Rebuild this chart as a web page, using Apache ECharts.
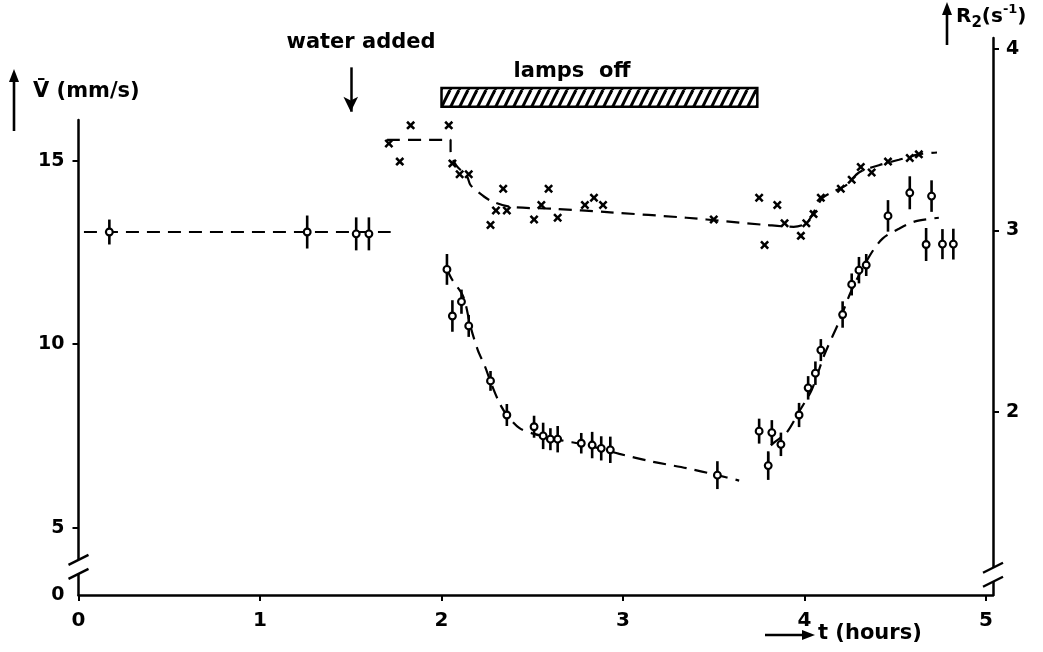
<!DOCTYPE html>
<html>
<head>
<meta charset="utf-8">
<script src="https://cdn.jsdelivr.net/npm/echarts@6/dist/echarts.min.js"></script>
<style>
  html, body { margin: 0; padding: 0; background: #fff; }
  #chart { width: 1043px; height: 652px; }
</style>
</head>
<body>
<div id="chart"></div>
<script>
// ---- axis ticks ----
const timeTicks = [0, 1, 2, 3, 4, 5];
const velocityTicks = [5, 10, 15];
const rateTicks = [2, 3, 4];

// ---- mean velocity V (mm/s): time (h), value, error half-width ----
const velTimes  = [0.17, 1.26, 1.53, 1.60, 2.03, 2.06, 2.11, 2.15, 2.27, 2.36, 2.51, 2.56, 2.60, 2.64, 2.77, 2.83, 2.88, 2.93, 3.52,
                   3.75, 3.80, 3.82, 3.87, 3.97, 4.02, 4.06, 4.09, 4.21, 4.26, 4.30, 4.34, 4.46, 4.58, 4.67, 4.70, 4.76, 4.82];
const velValues = [13.06, 13.06, 13.01, 13.01, 12.04, 10.77, 11.16, 10.50, 9.00, 8.07, 7.75, 7.50, 7.41, 7.41, 7.30, 7.25, 7.16, 7.12, 6.43,
                   7.63, 6.69, 7.59, 7.27, 8.07, 8.81, 9.21, 9.84, 10.81, 11.63, 12.02, 12.16, 13.50, 14.13, 12.72, 14.04, 12.73, 12.73];
const velErrors = [0.34, 0.45, 0.45, 0.45, 0.42, 0.43, 0.33, 0.30, 0.27, 0.30, 0.30, 0.36, 0.30, 0.36, 0.28, 0.36, 0.33, 0.36, 0.38,
                   0.34, 0.39, 0.34, 0.32, 0.33, 0.32, 0.32, 0.30, 0.36, 0.30, 0.36, 0.30, 0.43, 0.45, 0.45, 0.43, 0.41, 0.42];

// ---- dashed trend curves through the velocity data ----
const velTrendBefore = [[0.03, 13.06], [1.72, 13.06]];
const velTrendDecay = [[2.03, 12.04], [2.06, 11.75], [2.12, 11.30], [2.16, 10.48], [2.20, 9.84], [2.24, 9.39], [2.27, 8.98],
                       [2.32, 8.39], [2.36, 8.07], [2.43, 7.71], [2.50, 7.57], [2.65, 7.39], [2.80, 7.25], [2.98, 7.01],
                       [3.16, 6.80], [3.35, 6.62], [3.52, 6.43], [3.64, 6.28]];
const velTrendRecovery = [[3.80, 6.69], [3.80, 7.12], [3.83, 7.31], [3.90, 7.58], [3.97, 8.16], [4.04, 8.76], [4.11, 9.72],
                          [4.19, 10.61], [4.26, 11.48], [4.36, 12.42], [4.43, 12.88], [4.52, 13.15], [4.61, 13.35], [4.74, 13.45]];

// ---- relaxation rate R2 (1/s) ----
const rateTimes  = [1.71, 1.77, 1.83, 2.04, 2.06, 2.10, 2.15, 2.27, 2.30, 2.34, 2.36, 2.51, 2.55, 2.59, 2.64, 2.79, 2.84, 2.89,
                    3.50, 3.75, 3.78, 3.85, 3.89, 3.98, 4.01, 4.05, 4.09, 4.20, 4.26, 4.31, 4.37, 4.46, 4.58, 4.63];
const rateValues = [3.48, 3.38, 3.58, 3.58, 3.37, 3.31, 3.31, 3.03, 3.11, 3.23, 3.11, 3.06, 3.14, 3.23, 3.07, 3.14, 3.18, 3.14,
                    3.06, 3.18, 2.92, 3.14, 3.04, 2.97, 3.04, 3.09, 3.18, 3.23, 3.28, 3.35, 3.32, 3.38, 3.40, 3.42];
const rateTrend = [[1.70, 3.50], [2.05, 3.50], [2.05, 3.44], [2.08, 3.36], [2.14, 3.30], [2.16, 3.25], [2.23, 3.19],
                   [2.28, 3.16], [2.38, 3.13], [2.61, 3.12], [2.93, 3.10], [3.35, 3.07], [3.57, 3.05], [3.79, 3.03],
                   [3.94, 3.02], [4.01, 3.04], [4.05, 3.10], [4.10, 3.18], [4.15, 3.21], [4.23, 3.25], [4.30, 3.32],
                   [4.41, 3.36], [4.52, 3.39], [4.63, 3.42], [4.73, 3.43]];

// ---- events ----
const lampsOffPeriod = [2.0, 3.74];
const waterAddedTime = 1.5;

// ---- layout of annotations (in R2 axis units) ----
const lampBarBand = [3.786, 3.682];
const waterArrowSpan = [3.90, 3.655];

const FONT = "'DejaVu Sans', sans-serif";
const X_MAX = 5.0385;
const V_MIN = 3.161, V_MAX = 16.115;
const R_MIN = 0.988, R_MAX = 4.062;

// hatch pattern for the lamps-off bar
const hatch = document.createElement('canvas');
hatch.width = 9; hatch.height = 18;
(function () {
  const g = hatch.getContext('2d');
  g.fillStyle = '#fff';
  g.fillRect(0, 0, 9, 18);
  g.strokeStyle = '#000';
  g.lineWidth = 3;
  for (const dx of [-9, 0, 9]) {
    g.beginPath();
    g.moveTo(dx, 18);
    g.lineTo(dx + 9, 0);
    g.stroke();
  }
})();

// X-shaped marker
const crossSymbol = 'path://M0,2 L2,0 L5,3 L8,0 L10,2 L7,5 L10,8 L8,10 L5,7 L2,10 L0,8 L3,5 Z';

const dashStyle = { color: '#000', width: 2.2, type: [13, 8] };

const chart = echarts.init(document.getElementById('chart'), null, { renderer: 'canvas' });

const axisTextStyle = { color: '#000', fontFamily: FONT, fontWeight: 'bold', fontSize: 19 };
const axisLineStyle = { show: true, onZero: false, lineStyle: { color: '#000', width: 2.5 } };

const option = {
  animation: false,
  backgroundColor: '#fff',
  grid: [
    { left: 78.5, right: 50, top: 120, bottom: 57 },   // velocity panel
    { left: 78.5, right: 50, top: 38, bottom: 57 }     // R2 panel
  ],
  xAxis: [
    {
      type: 'value', gridIndex: 0, min: 0, max: X_MAX,
      axisLine: axisLineStyle,
      axisTick: { show: true, customValues: timeTicks, length: 6, lineStyle: { color: '#000', width: 2 } },
      axisLabel: Object.assign({}, axisTextStyle, { customValues: timeTicks, margin: 16, fontSize: 20 }),
      splitLine: { show: false }
    },
    {
      type: 'value', gridIndex: 1, min: 0, max: X_MAX, show: false,
      splitLine: { show: false }
    }
  ],
  yAxis: [
    {
      type: 'value', gridIndex: 0, min: V_MIN, max: V_MAX, position: 'left',
      axisLine: axisLineStyle,
      axisTick: { show: true, customValues: velocityTicks, length: 6, lineStyle: { color: '#000', width: 2 } },
      axisLabel: Object.assign({
        customValues: [V_MIN].concat(velocityTicks), margin: 14,
        formatter: v => (v < velocityTicks[0] - 1 ? '0' : String(v))
      }, axisTextStyle),
      splitLine: { show: false }
    },
    {
      type: 'value', gridIndex: 1, min: R_MIN, max: R_MAX, position: 'right',
      axisLine: axisLineStyle,
      axisTick: { show: true, customValues: rateTicks, length: 6, lineStyle: { color: '#000', width: 2 } },
      axisLabel: Object.assign({ customValues: rateTicks, margin: 13 }, axisTextStyle),
      splitLine: { show: false }
    }
  ],
  series: [
    // velocity trend curves
    { type: 'line', xAxisIndex: 0, yAxisIndex: 0, data: velTrendBefore, showSymbol: false, lineStyle: dashStyle, z: 2 },
    { type: 'line', xAxisIndex: 0, yAxisIndex: 0, data: velTrendDecay, showSymbol: false, smooth: 0.3, lineStyle: dashStyle, z: 2 },
    { type: 'line', xAxisIndex: 0, yAxisIndex: 0, data: velTrendRecovery, showSymbol: false, smooth: 0.3, lineStyle: dashStyle, z: 2 },
    // velocity points with error bars
    {
      type: 'custom', xAxisIndex: 0, yAxisIndex: 0, z: 4, clip: false,
      data: velTimes.map((t, i) => [t, velValues[i], velErrors[i]]),
      encode: { x: 0, y: 1 },
      renderItem(params, api) {
        const t = api.value(0), v = api.value(1), e = api.value(2);
        const hi = api.coord([t, v + e]);
        const lo = api.coord([t, v - e]);
        const c = api.coord([t, v]);
        return {
          type: 'group',
          children: [
            { type: 'line', shape: { x1: hi[0], y1: hi[1], x2: lo[0], y2: lo[1] }, style: { stroke: '#000', lineWidth: 2.6 } },
            { type: 'circle', shape: { cx: c[0], cy: c[1], r: 3.4 }, style: { fill: '#fff', stroke: '#000', lineWidth: 2.1 } }
          ]
        };
      }
    },
    // R2 trend curve
    { type: 'line', xAxisIndex: 1, yAxisIndex: 1, data: rateTrend, showSymbol: false, smooth: 0.3, lineStyle: dashStyle, z: 2 },
    // R2 points, plus the event annotations on the same scale
    {
      type: 'scatter', xAxisIndex: 1, yAxisIndex: 1, z: 4,
      data: rateTimes.map((t, i) => [t, rateValues[i]]),
      symbol: crossSymbol, symbolSize: 9,
      itemStyle: { color: '#000', opacity: 1 },
      markArea: {
        silent: true,
        itemStyle: { color: { image: hatch, repeat: 'repeat' }, borderColor: '#000', borderWidth: 2.5, opacity: 1 },
        label: { show: false },
        data: [[{ coord: [lampsOffPeriod[0], lampBarBand[0]] }, { coord: [lampsOffPeriod[1], lampBarBand[1]] }]]
      },
      markLine: {
        silent: true,
        symbol: ['none', 'arrow'], symbolSize: [11, 15],
        label: { show: false },
        lineStyle: { color: '#000', width: 2.5, type: 'solid' },
        data: [[{ coord: [waterAddedTime, waterArrowSpan[0]] }, { coord: [waterAddedTime, waterArrowSpan[1]] }]]
      }
    }
  ]
};

chart.setOption(option);

// decorations: axis titles, event labels and the axis-break marks
function textEl(text, x, y, size, align) {
  return {
    type: 'text', x: x, y: y, z: 10,
    style: { text: text, fill: '#000', font: 'bold ' + size + 'px ' + FONT, align: align || 'left', verticalAlign: 'middle' }
  };
}
function arrowUp(x, yTip, yEnd) {
  return [
    { type: 'line', z: 10, shape: { x1: x, y1: yTip + 10, x2: x, y2: yEnd }, style: { stroke: '#000', lineWidth: 2.6 } },
    { type: 'polygon', z: 10, shape: { points: [[x, yTip], [x - 5, yTip + 13], [x + 5, yTip + 13]] }, style: { fill: '#000' } }
  ];
}
function breakMark(p) {
  return [
    { type: 'rect', z: 10, shape: { x: p[0] - 3, y: p[1] - 7, width: 6, height: 14 }, style: { fill: '#fff' } },
    { type: 'line', z: 11, shape: { x1: p[0] - 10, y1: p[1] - 2, x2: p[0] + 10, y2: p[1] - 12 }, style: { stroke: '#000', lineWidth: 2.4 } },
    { type: 'line', z: 11, shape: { x1: p[0] - 10, y1: p[1] + 12, x2: p[0] + 10, y2: p[1] + 2 }, style: { stroke: '#000', lineWidth: 2.4 } }
  ];
}

const leftBreak = chart.convertToPixel({ gridIndex: 0 }, [0, 3.93]);
const rightBreak = chart.convertToPixel({ gridIndex: 1 }, [X_MAX, 1.10]);

const graphics = []
  .concat(arrowUp(14, 69, 131))
  .concat([textEl('V\u0304 (mm/s)', 33, 92, 21)])
  .concat(arrowUp(947, 2, 45))
  .concat([{
    type: 'text', x: 956, y: 17, z: 10,
    style: {
      text: '{m|R}{sub|2}{m|(s}{sup|-1}{m|)}',
      verticalAlign: 'middle',
      rich: {
        m: { fontFamily: FONT, fontWeight: 'bold', fontSize: 20, lineHeight: 28, verticalAlign: 'middle', fill: '#000' },
        sub: { fontFamily: FONT, fontWeight: 'bold', fontSize: 15, verticalAlign: 'bottom', fill: '#000' },
        sup: { fontFamily: FONT, fontWeight: 'bold', fontSize: 13, verticalAlign: 'top', fill: '#000' }
      }
    }
  }])
  .concat([textEl('water added', 361, 43, 21, 'center')])
  .concat([textEl('lamps  off', 572, 72, 21, 'center')])
  .concat([
    { type: 'line', z: 10, shape: { x1: 765, y1: 635, x2: 805, y2: 635 }, style: { stroke: '#000', lineWidth: 2.4 } },
    { type: 'polygon', z: 10, shape: { points: [[815, 635], [802, 630], [802, 640]] }, style: { fill: '#000' } },
    textEl('t (hours)', 818, 634, 21)
  ])
  .concat(breakMark(leftBreak))
  .concat(breakMark(rightBreak));

chart.setOption({ graphic: graphics });
</script>
</body>
</html>
